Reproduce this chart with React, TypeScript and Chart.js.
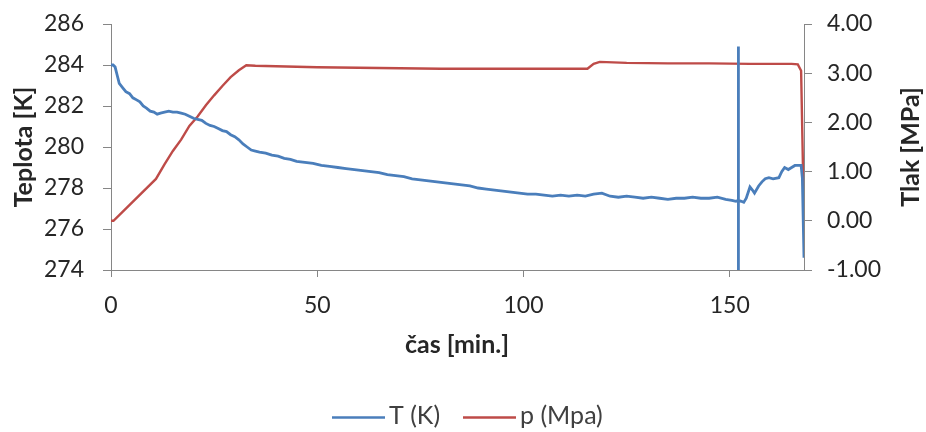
import React, { useEffect, useRef } from "react";
import { Chart, registerables } from "chart.js";

Chart.register(...registerables);

// Temperature series T (K)
const tTime = [
  0, 0.5, 1.0, 1.5, 2.0, 2.8, 3.6, 4.5, 5.3, 6.2, 7.0, 7.8, 8.6, 9.5, 10.4, 11.2, 12.0, 13.0, 14.0, 15.0,
  16.0, 17.0, 18.0, 19.0, 20.0, 21.0, 22.0, 23.0, 24.0, 25.0, 26.0, 27.0, 28.0, 29.0, 30.0, 31.0, 32.0, 33.0,
  34.0, 35.0, 36.0, 37.5, 39.0, 40.5, 42.0, 43.5, 45.0, 47.0, 49.0, 51.0, 53.0, 55.0, 57.0, 59.0, 61.0, 63.0,
  65.0, 67.0, 69.0, 71.0, 73.0, 75.0, 77.0, 79.0, 81.0, 83.0, 85.0, 87.0, 89.0, 91.0, 93.0, 95.0, 97.0, 99.0,
  101.0, 103.0, 105.0, 107.0, 109.0, 111.0, 113.0, 115.0, 117.0, 119.0, 121.0, 123.0, 125.0, 127.0, 129.0,
  131.0, 133.0, 135.0, 137.0, 139.0, 141.0, 143.0, 145.0, 147.0, 149.0, 150.5, 151.5, 152.1, 152.1, 152.1,
  152.1, 152.8, 153.4, 154.0, 154.9, 155.5, 156.0, 157.0, 157.8, 158.6, 159.5, 160.5, 161.9, 162.6, 163.3,
  164.2, 165.0, 165.8, 166.7, 167.3, 167.6, 168.0,
];
const tValue = [
  284.0, 284.0, 283.9, 283.5, 283.1, 282.9, 282.7, 282.6, 282.4, 282.3, 282.2, 282.0, 281.9, 281.75, 281.7,
  281.6, 281.65, 281.7, 281.75, 281.7, 281.7, 281.65, 281.6, 281.5, 281.4, 281.35, 281.3, 281.15, 281.05,
  281.0, 280.9, 280.8, 280.75, 280.6, 280.5, 280.35, 280.15, 280.0, 279.85, 279.8, 279.75, 279.7, 279.6,
  279.55, 279.45, 279.4, 279.3, 279.25, 279.2, 279.1, 279.05, 279.0, 278.95, 278.9, 278.85, 278.8, 278.75,
  278.65, 278.6, 278.55, 278.45, 278.4, 278.35, 278.3, 278.25, 278.2, 278.15, 278.1, 278.0, 277.95, 277.9,
  277.85, 277.8, 277.75, 277.7, 277.7, 277.65, 277.6, 277.65, 277.6, 277.65, 277.6, 277.7, 277.75, 277.6,
  277.55, 277.6, 277.55, 277.5, 277.55, 277.5, 277.45, 277.5, 277.5, 277.55, 277.5, 277.5, 277.55, 277.45,
  277.4, 277.35, 277.4, 284.9, 272.0, 277.4, 277.35, 277.3, 277.5, 278.05, 277.9, 277.75, 278.1, 278.3,
  278.45, 278.5, 278.45, 278.5, 278.8, 279.0, 278.9, 279.0, 279.1, 279.1, 279.1, 278.5, 274.6,
];

// Pressure series p (MPa)
const pTime = [
  0, 0.6, 10.9, 13, 15, 17, 19, 21, 23, 25, 27, 29, 31, 32.8, 35, 40, 50, 60, 70, 80, 90, 100, 110, 115.5,
  117, 118.5, 125, 135, 145, 155, 165, 166.5, 167.3, 168.0,
];
const pValue = [
  0.0, 0.0, 0.85, 1.15, 1.42, 1.65, 1.93, 2.12, 2.35, 2.55, 2.74, 2.92, 3.06, 3.16, 3.15, 3.14, 3.12, 3.11,
  3.1, 3.09, 3.09, 3.09, 3.09, 3.09, 3.19, 3.23, 3.21, 3.2, 3.2, 3.19, 3.19, 3.18, 3.05, 0.0,
];

const xTicks = [0, 50, 100, 150];
const leftTicks = [274, 276, 278, 280, 282, 284, 286];
const rightTicks = [-1, 0, 1, 2, 3, 4];

const seriesNames = ["T (K)", "p (Mpa)"];
const xTitle = "čas [min.]";
const leftTitle = "Teplota [K]";
const rightTitle = "Tlak [MPa]";

const BLUE = "#4a7ebb";
const RED = "#be4b48";
const AXIS = "#868686";
const TEXT = "#262626";
const FONT = "Lato, 'Open Sans', sans-serif";

function noPad(s: any) {
  s.paddingTop = 0;
  s.paddingBottom = 0;
  s.paddingLeft = 0;
  s.paddingRight = 0;
}

export default function App() {
  const ref = useRef<HTMLCanvasElement | null>(null);

  useEffect(() => {
    document.body.style.margin = "0";
    const canvas = ref.current;
    if (!canvas) return;

    const overlay = {
      id: "overlay",
      afterDraw(chart: any) {
        const ctx = chart.ctx as CanvasRenderingContext2D;
        const area = chart.chartArea;
        const midY = (area.top + area.bottom) / 2;
        ctx.save();
        ctx.fillStyle = TEXT;
        ctx.font = `bold 25px ${FONT}`;
        ctx.textAlign = "center";
        ctx.textBaseline = "middle";
        ctx.save();
        ctx.translate(24, midY);
        ctx.rotate(-Math.PI / 2);
        ctx.fillText(leftTitle, 0, 0);
        ctx.restore();
        ctx.save();
        ctx.translate(911, midY);
        ctx.rotate(-Math.PI / 2);
        ctx.fillText(rightTitle, 0, 0);
        ctx.restore();
        ctx.fillText(xTitle, 457, 345);
        // legend
        ctx.font = `25px ${FONT}`;
        ctx.textAlign = "left";
        const ly = 416;
        const items = [
          { x: 332, color: BLUE, text: seriesNames[0] },
          { x: 463, color: RED, text: seriesNames[1] },
        ];
        items.forEach((it) => {
          ctx.strokeStyle = it.color;
          ctx.lineWidth = 2.5;
          ctx.beginPath();
          ctx.moveTo(it.x, ly + 1.5);
          ctx.lineTo(it.x + 53, ly + 1.5);
          ctx.stroke();
          ctx.fillStyle = "#404040";
          ctx.fillText(it.text, it.x + 57, ly);
        });
        ctx.restore();
      },
    };

    const chart = new Chart(canvas, {
      type: "line",
      data: {
        datasets: [
          {
            label: seriesNames[0],
            data: tTime.map((x, i) => ({ x, y: tValue[i] })),
            borderColor: BLUE,
            backgroundColor: BLUE,
            borderWidth: 2.8,
            pointRadius: 0,
            tension: 0,
            yAxisID: "y",
          },
          {
            label: seriesNames[1],
            data: pTime.map((x, i) => ({ x, y: pValue[i] })),
            borderColor: RED,
            backgroundColor: RED,
            borderWidth: 2.4,
            pointRadius: 0,
            tension: 0,
            yAxisID: "y1",
          },
        ],
      },
      plugins: [overlay],
      options: {
        animation: false,
        responsive: true,
        maintainAspectRatio: false,
        layout: { padding: { top: 24, left: 0, right: 0, bottom: 0 } },
        plugins: {
          legend: { display: false },
          tooltip: { enabled: false },
        },
        scales: {
          x: {
            type: "linear",
            min: 0,
            max: 168,
            afterBuildTicks: (s: any) => {
              s.ticks = xTicks.map((v) => ({ value: v }));
            },
            afterFit: (s: any) => {
              s.height = 162;
              noPad(s);
            },
            grid: { drawOnChartArea: false, drawTicks: true, tickLength: 7, color: AXIS },
            border: { display: true, color: AXIS, width: 1 },
            ticks: { color: TEXT, font: { family: FONT, size: 23 }, padding: 15, maxRotation: 0 },
          },
          y: {
            type: "linear",
            position: "left",
            min: 274,
            max: 286,
            afterBuildTicks: (s: any) => {
              s.ticks = leftTicks.map((v) => ({ value: v }));
            },
            afterFit: (s: any) => {
              s.width = 111;
              noPad(s);
            },
            grid: { drawOnChartArea: false, drawTicks: true, tickLength: 8, color: AXIS },
            border: { display: true, color: AXIS, width: 1 },
            ticks: { color: TEXT, font: { family: FONT, size: 23 }, padding: 19 },
          },
          y1: {
            type: "linear",
            position: "right",
            min: -1,
            max: 4,
            afterBuildTicks: (s: any) => {
              s.ticks = rightTicks.map((v) => ({ value: v }));
            },
            afterFit: (s: any) => {
              s.width = 122;
              noPad(s);
            },
            grid: { drawOnChartArea: false, drawTicks: true, tickLength: 8, color: AXIS },
            border: { display: true, color: AXIS, width: 1 },
            ticks: {
              color: TEXT,
              font: { family: FONT, size: 23 },
              padding: 15,
              callback: (v: any) => Number(v).toFixed(2),
            },
          },
        },
      },
    } as any);

    return () => chart.destroy();
  }, []);

  return (
    <div style={{ width: 926, height: 432, position: "relative", background: "#fff" }}>
      <canvas ref={ref} />
    </div>
  );
}
